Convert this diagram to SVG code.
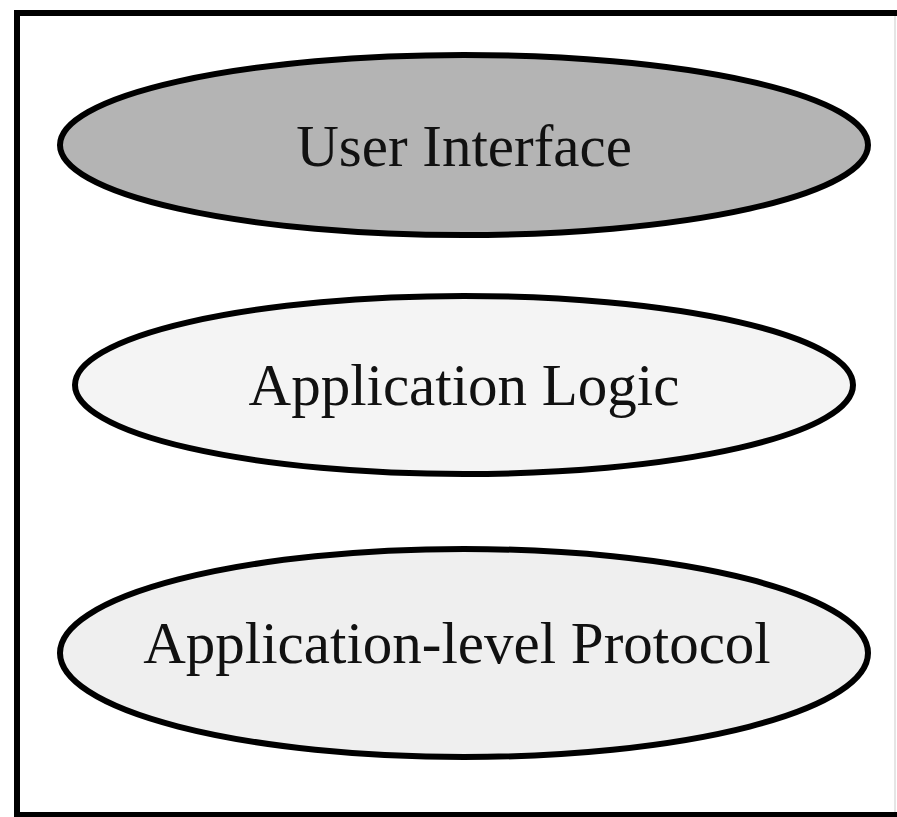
<svg xmlns="http://www.w3.org/2000/svg" width="897" height="817" viewBox="0 0 897 817">
<style>
.node { stroke: #000; stroke-width: 6; }
.lbl { font-family: "Liberation Serif", "Times New Roman", serif; font-size: 59px; fill: #111; text-anchor: middle; }
</style>
<rect width="897" height="817" fill="#fff"/>
<g id="frame">
<path d="M900 13 H17 V815 H900" fill="none" stroke="#000" stroke-width="6"/>
<line x1="895" y1="16" x2="895" y2="812" stroke="#ddd" stroke-width="1.5"/>
</g>
<g id="user-interface">
<ellipse class="node" cx="464" cy="145" rx="404" ry="90" fill="#b4b4b4"/>
<text class="lbl" x="464" y="166">User Interface</text>
</g>
<g id="application-logic">
<ellipse class="node" cx="464" cy="385" rx="389" ry="89" fill="#f4f4f4"/>
<text class="lbl" x="464" y="405">Application Logic</text>
</g>
<g id="application-level-protocol">
<ellipse class="node" cx="464" cy="653" rx="404" ry="104" fill="#efefef"/>
<text class="lbl" x="457" y="663">Application-level Protocol</text>
</g>
<g id="connectors"></g>
</svg>
